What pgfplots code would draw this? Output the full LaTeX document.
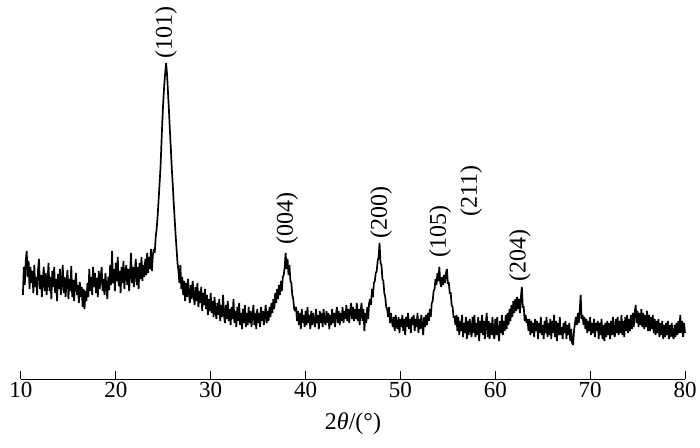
\documentclass[border=0pt]{standalone}
\usepackage{fontspec}
\setmainfont{Liberation Serif}
\usepackage{pgfplots}
\pgfplotsset{compat=1.18}
\begin{document}
\begin{tikzpicture}
\begin{axis}[
  scale only axis, width=664pt, height=379pt,
  xmin=10, xmax=80, ymin=0, ymax=379,
  axis x line=bottom, axis y line=none,
  axis line style={-, line width=1pt, black},
  xtick={10,20,...,80},
  tick align=inside, major tick length=8pt,
  tick style={line width=1pt, black},
  /pgf/number format/assume math mode=true,
  ticklabel style={font=\fontsize{23}{23}\selectfont},
  xlabel={2\textit{θ}/(°)},
  xlabel style={font=\fontsize{24}{24}\selectfont, at={(axis description cs:0.5,0)}, anchor=north, yshift=-34pt, inner sep=0pt},
  clip=false,
]
\addplot[black, line width=1.7pt, line join=miter, miter limit=2] coordinates {
(10.2,84)(10.3,112)(10.4,94)(10.5,118)(10.6,128)(10.7,102)(10.8,118)(10.9,90)(11.0,112)(11.1,96)
(11.2,108)(11.3,86)(11.4,114)(11.5,92)(11.6,102)(11.7,84)(11.8,110)(11.9,120)(12.0,90)(12.1,104)
(12.2,82)(12.3,100)(12.4,112)(12.5,88)(12.6,106)(12.7,84)(12.8,98)(12.9,116)(13.0,88)(13.1,102)
(13.2,80)(13.3,108)(13.4,92)(13.5,112)(13.6,86)(13.7,100)(13.8,78)(13.9,105)(14.0,90)(14.1,110)
(14.2,84)(14.3,98)(14.4,114)(14.5,86)(14.6,102)(14.7,82)(14.8,96)(14.9,109)(15.0,80)(15.1,100)
(15.2,88)(15.3,113)(15.4,82)(15.5,99)(15.6,78)(15.7,96)(15.8,106)(15.9,84)(16.0,94)(16.1,76)
(16.2,97)(16.3,82)(16.4,92)(16.5,72)(16.6,90)(16.7,70)(16.8,88)(16.9,78)(17.0,96)(17.1,82)
(17.2,110)(17.3,88)(17.4,102)(17.5,84)(17.6,112)(17.7,92)(17.8,106)(17.9,86)(18.0,101)(18.1,82)
(18.2,108)(18.3,90)(18.4,102)(18.5,112)(18.6,88)(18.7,100)(18.8,84)(18.9,106)(19.0,92)(19.1,80)
(19.2,102)(19.3,89)(19.4,114)(19.5,94)(19.6,128)(19.7,96)(19.8,110)(19.9,88)(20.0,116)(20.1,98)
(20.2,122)(20.3,93)(20.4,108)(20.5,86)(20.6,112)(20.7,96)(20.8,118)(20.9,90)(21.0,106)(21.1,114)
(21.2,94)(21.3,110)(21.4,88)(21.5,106)(21.6,126)(21.7,96)(21.8,112)(21.9,92)(22.0,108)(22.1,120)
(22.2,94)(22.3,112)(22.4,90)(22.5,116)(22.6,100)(22.7,122)(22.8,98)(22.9,114)(23.0,102)(23.1,120)
(23.2,104)(23.3,126)(23.4,106)(23.5,122)(23.6,110)(23.7,130)(23.8,108)(23.9,124)(24.0,130)(24.1,126)
(24.2,142)(24.3,150)(24.4,162)(24.5,178)(24.6,194)(24.7,210)(24.8,234)(24.9,258)(25.0,278)(25.1,294)
(25.2,306)(25.3,316)(25.4,304)(25.5,286)(25.6,268)(25.7,248)(25.8,230)(25.9,210)(26.0,194)(26.1,176)
(26.2,160)(26.3,144)(26.4,130)(26.5,116)(26.6,108)(26.7,96)(26.8,114)(26.9,90)(27.0,102)(27.1,84)
(27.2,98)(27.3,78)(27.4,96)(27.5,82)(27.6,100)(27.7,86)(27.8,76)(27.9,94)(28.0,80)(28.1,98)
(28.2,84)(28.3,74)(28.4,92)(28.5,78)(28.6,96)(28.7,72)(28.8,88)(28.9,76)(29.0,92)(29.1,68)
(29.2,86)(29.3,74)(29.4,90)(29.5,70)(29.6,84)(29.7,64)(29.8,80)(29.9,68)(30.0,86)(30.1,66)
(30.2,78)(30.3,62)(30.4,82)(30.5,68)(30.6,60)(30.7,76)(30.8,64)(30.9,80)(31.0,58)(31.1,74)
(31.2,62)(31.3,84)(31.4,64)(31.5,56)(31.6,74)(31.7,60)(31.8,78)(31.9,58)(32.0,70)(32.1,54)
(32.2,72)(32.3,60)(32.4,80)(32.5,56)(32.6,68)(32.7,52)(32.8,72)(32.9,58)(33.0,76)(33.1,54)
(33.2,66)(33.3,50)(33.4,70)(33.5,56)(33.6,74)(33.7,52)(33.8,66)(33.9,54)(34.0,72)(34.1,56)
(34.2,68)(34.3,52)(34.4,64)(34.5,74)(34.6,54)(34.7,66)(34.8,50)(34.9,70)(35.0,56)(35.1,66)
(35.2,52)(35.3,72)(35.4,58)(35.5,68)(35.6,54)(35.7,64)(35.8,74)(35.9,56)(36.0,68)(36.1,58)
(36.2,72)(36.3,62)(36.4,76)(36.5,66)(36.6,80)(36.7,70)(36.8,86)(36.9,76)(37.0,90)(37.1,80)
(37.2,94)(37.3,84)(37.4,98)(37.5,88)(37.6,102)(37.7,104)(37.8,112)(37.9,126)(38.0,110)(38.1,120)
(38.2,104)(38.3,114)(38.4,98)(38.5,96)(38.6,84)(38.7,80)(38.8,70)(38.9,68)(39.0,72)(39.1,58)
(39.2,68)(39.3,54)(39.4,66)(39.5,50)(39.6,70)(39.7,56)(39.8,64)(39.9,52)(40.0,68)(40.1,54)
(40.2,72)(40.3,56)(40.4,64)(40.5,50)(40.6,68)(40.7,54)(40.8,66)(40.9,58)(41.0,52)(41.1,70)
(41.2,56)(41.3,64)(41.4,50)(41.5,68)(41.6,56)(41.7,66)(41.8,52)(41.9,70)(42.0,58)(42.1,54)
(42.2,68)(42.3,56)(42.4,66)(42.5,50)(42.6,64)(42.7,54)(42.8,70)(42.9,56)(43.0,66)(43.1,52)
(43.2,64)(43.3,72)(43.4,56)(43.5,68)(43.6,54)(43.7,66)(43.8,58)(43.9,72)(44.0,56)(44.1,68)
(44.2,60)(44.3,74)(44.4,58)(44.5,70)(44.6,56)(44.7,68)(44.8,76)(44.9,60)(45.0,72)(45.1,58)
(45.2,70)(45.3,60)(45.4,76)(45.5,58)(45.6,70)(45.7,54)(45.8,68)(45.9,76)(46.0,58)(46.1,70)
(46.2,48)(46.3,66)(46.4,56)(46.5,72)(46.6,60)(46.7,76)(46.8,80)(46.9,74)(47.0,90)(47.1,82)
(47.2,96)(47.3,98)(47.4,106)(47.5,108)(47.6,118)(47.7,122)(47.8,136)(47.9,116)(48.0,114)(48.1,100)
(48.2,98)(48.3,86)(48.4,82)(48.5,72)(48.6,70)(48.7,62)(48.8,72)(48.9,56)(49.0,66)(49.1,58)
(49.2,52)(49.3,62)(49.4,48)(49.5,64)(49.6,54)(49.7,50)(49.8,62)(49.9,46)(50.0,60)(50.1,52)
(50.2,64)(50.3,48)(50.4,60)(50.5,44)(50.6,62)(50.7,52)(50.8,66)(50.9,50)(51.0,60)(51.1,46)
(51.2,62)(51.3,54)(51.4,64)(51.5,48)(51.6,60)(51.7,52)(51.8,66)(51.9,46)(52.0,60)(52.1,50)
(52.2,64)(52.3,54)(52.4,44)(52.5,62)(52.6,52)(52.7,64)(52.8,54)(52.9,66)(53.0,58)(53.1,70)
(53.2,62)(53.3,76)(53.4,78)(53.5,88)(53.6,90)(53.7,100)(53.8,94)(53.9,106)(54.0,98)(54.1,112)
(54.2,96)(54.3,92)(54.4,102)(54.5,94)(54.6,104)(54.7,96)(54.8,106)(54.9,110)(55.0,96)(55.1,96)
(55.2,86)(55.3,86)(55.4,74)(55.5,72)(55.6,62)(55.7,62)(55.8,54)(55.9,64)
(56.0,48)(56.1,62)(56.2,44)(56.3,58)(56.4,48)(56.5,64)(56.6,42)(56.7,56)(56.8,46)(56.9,62)
(57.0,40)(57.1,58)(57.2,44)(57.3,60)(57.4,50)(57.5,42)(57.6,62)(57.7,46)(57.8,64)(57.9,42)
(58.0,56)(58.1,44)(58.2,62)(58.3,38)(58.4,58)(58.5,46)(58.6,64)(58.7,44)(58.8,58)(58.9,40)
(59.0,56)(59.1,66)(59.2,42)(59.3,58)(59.4,40)(59.5,56)(59.6,44)(59.7,62)(59.8,46)(59.9,40)
(60.0,60)(60.1,44)(60.2,62)(60.3,46)(60.4,38)(60.5,58)(60.6,46)(60.7,64)(60.8,44)(60.9,58)
(61.0,48)(61.1,64)(61.2,50)(61.3,66)(61.4,54)(61.5,70)(61.6,58)(61.7,74)(61.8,62)(61.9,78)
(62.0,66)(62.1,80)(62.2,68)(62.3,82)(62.4,70)(62.5,80)(62.6,66)(62.7,82)(62.8,92)(62.9,72)
(63.0,72)(63.1,58)(63.2,64)(63.3,56)(63.4,60)(63.5,48)(63.6,60)(63.7,44)(63.8,58)(63.9,46)
(64.0,56)(64.1,42)(64.2,60)(64.3,48)(64.4,58)(64.5,40)(64.6,56)(64.7,46)(64.8,62)(64.9,44)
(65.0,54)(65.1,40)(65.2,58)(65.3,46)(65.4,62)(65.5,42)(65.6,56)(65.7,44)(65.8,60)(65.9,40)
(66.0,58)(66.1,46)(66.2,64)(66.3,42)(66.4,58)(66.5,38)(66.6,56)(66.7,44)(66.8,62)(66.9,44)
(67.0,52)(67.1,40)(67.2,56)(67.3,46)(67.4,58)(67.5,40)(67.6,54)(67.7,44)(67.8,56)(67.9,38)
(68.0,50)(68.1,36)(68.2,34)(68.3,48)(68.4,56)(68.5,62)(68.6,54)(68.7,66)(68.8,56)(68.9,68)
(69.0,84)(69.1,60)(69.2,64)(69.3,54)(69.4,62)(69.5,50)(69.6,60)(69.7,46)(69.8,58)(69.9,48)
(70.0,62)(70.1,44)(70.2,56)(70.3,46)(70.4,60)(70.5,42)(70.6,56)(70.7,48)(70.8,58)(70.9,40)
(71.0,56)(71.1,44)(71.2,60)(71.3,40)(71.4,54)(71.5,38)(71.6,56)(71.7,42)(71.8,58)(71.9,44)
(72.0,56)(72.1,40)(72.2,58)(72.3,44)(72.4,62)(72.5,46)(72.6,42)(72.7,60)(72.8,46)(72.9,62)
(73.0,44)(73.1,58)(73.2,46)(73.3,64)(73.4,44)(73.5,58)(73.6,42)(73.7,62)(73.8,48)(73.9,64)
(74.0,46)(74.1,60)(74.2,48)(74.3,64)(74.4,50)(74.5,66)(74.6,52)(74.7,66)(74.8,74)(74.9,56)
(75.0,68)(75.1,52)(75.2,66)(75.3,54)(75.4,70)(75.5,52)(75.6,66)(75.7,50)(75.8,64)(75.9,52)
(76.0,68)(76.1,48)(76.2,64)(76.3,48)(76.4,62)(76.5,50)(76.6,64)(76.7,46)(76.8,60)(76.9,44)
(77.0,58)(77.1,46)(77.2,60)(77.3,42)(77.4,56)(77.5,44)(77.6,58)(77.7,40)(77.8,54)(77.9,42)
(78.0,56)(78.1,44)(78.2,58)(78.3,40)(78.4,54)(78.5,42)(78.6,56)(78.7,44)(78.8,40)(78.9,54)
(79.0,42)(79.1,56)(79.2,44)(79.3,58)(79.4,46)(79.5,64)(79.6,46)(79.7,58)(79.8,42)(79.9,56)
(80.0,46)
};
\begin{scope}[every node/.style={rotate=90, anchor=west, inner sep=0pt, font=\fontsize{24}{24}\selectfont}]
\node at (axis cs:25.29,320) {(101)};
\node at (axis cs:38.04,134) {(004)};
\node at (axis cs:47.95,140) {(200)};
\node at (axis cs:54.17,121) {(105)};
\node at (axis cs:57.44,162) {(211)};
\node at (axis cs:62.60,97) {(204)};
\end{scope}
\end{axis}
\pgfresetboundingbox
\path (-21pt,-68pt) rectangle (679pt,379pt);
\end{tikzpicture}
\end{document}
